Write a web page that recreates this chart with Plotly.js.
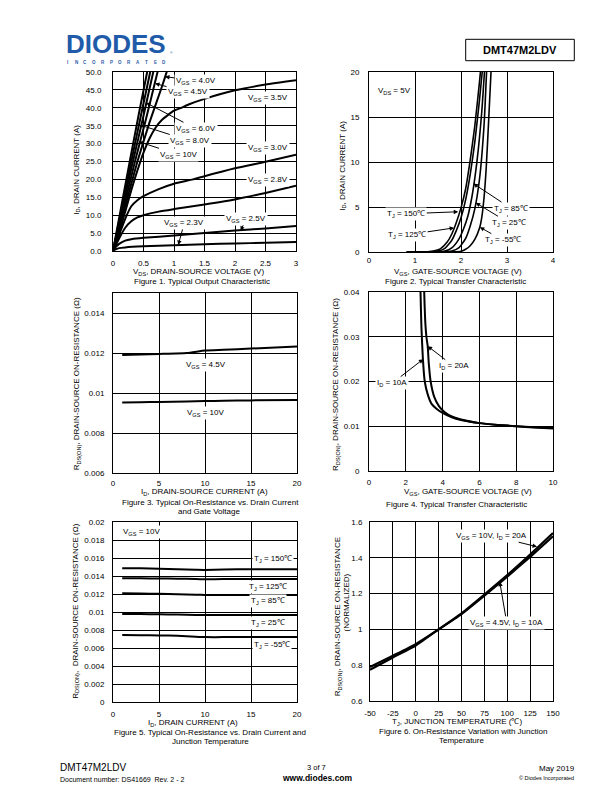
<!DOCTYPE html>
<html>
<head>
<meta charset="utf-8">
<script src="https://cdn.plot.ly/plotly-3.0.1.min.js"></script>
<style>html,body{margin:0;padding:0;background:#fff;}#chart{width:612px;height:792px;}</style>
</head>
<body>
<div id="chart"></div>
<script>
// ---------------- DATA ----------------
// Figure 1: Typical Output Characteristic (VDS [V] vs ID [A])
const f1_vgs10_x = [0, 0.14, 0.28, 0.42, 0.56, 0.58];
const f1_vgs10_y = [0, 12.8, 25.5, 38, 50, 51.8];
const f1_vgs8_x = [0, 0.15, 0.30, 0.45, 0.61, 0.63];
const f1_vgs8_y = [0, 12.5, 25, 37.2, 50, 51.5];
const f1_vgs6_x = [0, 0.16, 0.32, 0.49, 0.66, 0.68];
const f1_vgs6_y = [0, 12.3, 24.5, 37, 50, 51.4];
const f1_vgs45_x = [0, 0.18, 0.36, 0.54, 0.73, 0.76];
const f1_vgs45_y = [0, 12.5, 25, 36.8, 50, 51.8];
const f1_vgs40_x = [0, 0.2, 0.4, 0.6, 0.8, 0.88, 0.9];
const f1_vgs40_y = [0, 12.5, 25, 36, 45.8, 50, 51];
const f1_vgs35_x = [0, 0.1, 0.2, 0.3, 0.4, 0.5, 0.6, 0.7, 0.8, 1.0, 1.12, 1.25, 1.5, 2.0, 2.5, 3.0];
const f1_vgs35_y = [0, 5, 11, 17, 22.5, 27.5, 31.5, 34.5, 36.6, 39.2, 40, 41, 42.5, 44.9, 46.5, 47.7];
const f1_vgs30_x = [0, 0.1, 0.2, 0.3, 0.4, 0.5, 0.75, 1.0, 1.31, 1.5, 2.0, 2.52, 3.0];
const f1_vgs30_y = [0, 4.5, 9, 12.5, 14.2, 15.3, 17.3, 18.8, 20, 20.9, 23.1, 25, 26.9];
const f1_vgs28_x = [0, 0.1, 0.2, 0.3, 0.4, 0.5, 0.75, 1.0, 1.5, 2.0, 2.5, 3.0];
const f1_vgs28_y = [0, 3.5, 6.5, 8.3, 9.4, 10.0, 11.0, 11.7, 13.0, 14.4, 16.2, 18.2];
const f1_vgs25_x = [0, 0.05, 0.1, 0.2, 0.3, 0.5, 1.0, 1.5, 2.0, 2.5, 3.0];
const f1_vgs25_y = [0, 1.2, 2.0, 2.9, 3.3, 3.7, 4.3, 5.0, 5.7, 6.3, 7.0];
const f1_vgs23_x = [0, 0.05, 0.1, 0.2, 0.5, 1.0, 1.5, 2.0, 2.5, 3.0];
const f1_vgs23_y = [0, 0.5, 0.8, 1.0, 1.3, 1.6, 1.9, 2.1, 2.3, 2.5];
const f1_xticks = [0, 0.5, 1, 1.5, 2, 2.5, 3];
const f1_xtext = ['0', '0.5', '1', '1.5', '2', '2.5', '3'];
const f1_yticks = [0, 5, 10, 15, 20, 25, 30, 35, 40, 45, 50];
const f1_ytext = ['0.0', '5.0', '10.0', '15.0', '20.0', '25.0', '30.0', '35.0', '40.0', '45.0', '50.0'];

// Figure 2: Typical Transfer Characteristic (VGS [V] vs ID [A]), VDS = 5V
const f2_t150_x = [0.82, 1.2, 1.4, 1.55, 1.7, 1.8, 1.9, 2.0, 2.1, 2.2, 2.3, 2.4, 2.45];
const f2_t150_y = [0, 0.01, 0.1, 0.35, 1.1, 2.0, 3.3, 4.9, 7.0, 10.2, 14.0, 18.8, 21.5];
const f2_t125_x = [0.82, 1.3, 1.5, 1.65, 1.8, 1.9, 2.0, 2.1, 2.2, 2.3, 2.4, 2.48];
const f2_t125_y = [0, 0.01, 0.1, 0.4, 1.3, 2.4, 3.8, 5.8, 8.6, 12.2, 16.8, 21];
const f2_t85_x = [0.82, 1.45, 1.65, 1.8, 1.95, 2.05, 2.15, 2.25, 2.35, 2.45, 2.52];
const f2_t85_y = [0, 0.01, 0.1, 0.45, 1.4, 2.5, 4.0, 6.5, 10.2, 15.5, 20.8];
const f2_t25_x = [0.82, 1.6, 1.8, 1.95, 2.1, 2.2, 2.3, 2.4, 2.5, 2.56];
const f2_t25_y = [0, 0.01, 0.1, 0.45, 1.5, 2.9, 4.8, 8.0, 14.0, 20.5];
const f2_tm55_x = [0.82, 1.85, 2.0, 2.1, 2.2, 2.3, 2.4, 2.45, 2.5, 2.55, 2.6, 2.66];
const f2_tm55_y = [0, 0.01, 0.08, 0.3, 0.7, 1.4, 2.6, 3.8, 6.0, 9.5, 14.5, 20.8];
const f2_xticks = [0, 1, 2, 3, 4];
const f2_xtext = ['0', '1', '2', '3', '4'];
const f2_yticks = [0, 5, 10, 15, 20];
const f2_ytext = ['0', '5', '10', '15', '20'];

// Figure 3: On-Resistance vs Drain Current and Gate Voltage
const f3_id = [1, 3, 5, 8, 10, 12, 15, 20];
const f3_vgs45 = [0.0119, 0.01192, 0.01195, 0.0120, 0.01212, 0.01216, 0.01222, 0.01233];
const f3_vgs10 = [0.00953, 0.00954, 0.00955, 0.00958, 0.0096, 0.00961, 0.00963, 0.00965];
const f3_xticks = [0, 5, 10, 15, 20];
const f3_xtext = ['0', '5', '10', '15', '20'];
const f3_yticks = [0.006, 0.008, 0.01, 0.012, 0.014];
const f3_ytext = ['0.006', '0.008', '0.01', '0.012', '0.014'];

// Figure 4: On-Resistance vs Gate-Source Voltage
const f4_id10_x = [2.78, 2.8, 2.85, 2.93, 3.03, 3.2, 3.4, 3.7, 4.0, 4.5, 5, 6, 7, 8, 9, 10];
const f4_id10_y = [0.045, 0.04, 0.032, 0.025, 0.02, 0.017, 0.015, 0.0138, 0.013, 0.012, 0.0114, 0.0107, 0.0103, 0.0100, 0.0098, 0.0096];
const f4_id20_x = [2.98, 3.0, 3.05, 3.12, 3.19, 3.25, 3.35, 3.55, 3.8, 4.1, 4.5, 5, 6, 7, 8, 9, 10];
const f4_id20_y = [0.045, 0.04, 0.034, 0.030, 0.0279, 0.024, 0.020, 0.0165, 0.0145, 0.0132, 0.0122, 0.0115, 0.0107, 0.0103, 0.0100, 0.0097, 0.0095];
const f4_xticks = [0, 2, 4, 6, 8, 10];
const f4_xtext = ['0', '2', '4', '6', '8', '10'];
const f4_yticks = [0, 0.01, 0.02, 0.03, 0.04];
const f4_ytext = ['0', '0.01', '0.02', '0.03', '0.04'];

// Figure 5: On-Resistance vs Drain Current and Junction Temperature (VGS = 10V)
const f5_id = [1, 3, 5, 7, 9, 10, 12, 15, 20];
const f5_t150 = [0.01487, 0.01485, 0.0148, 0.01476, 0.0147, 0.01468, 0.01472, 0.01475, 0.01476];
const f5_t125 = [0.01375, 0.01374, 0.01372, 0.0137, 0.01366, 0.01364, 0.01366, 0.01367, 0.01368];
const f5_t85 = [0.01208, 0.01206, 0.01202, 0.01198, 0.01192, 0.0119, 0.0119, 0.0119, 0.0119];
const f5_t25 = [0.00978, 0.00977, 0.00975, 0.00972, 0.00968, 0.00967, 0.00967, 0.00967, 0.00967];
const f5_tm55 = [0.00744, 0.00743, 0.0074, 0.00735, 0.00725, 0.00721, 0.00721, 0.00721, 0.00722];
const f5_xticks = [0, 5, 10, 15, 20];
const f5_xtext = ['0', '5', '10', '15', '20'];
const f5_yticks = [0, 0.002, 0.004, 0.006, 0.008, 0.01, 0.012, 0.014, 0.016, 0.018, 0.02];
const f5_ytext = ['0', '0.002', '0.004', '0.006', '0.008', '0.01', '0.012', '0.014', '0.016', '0.018', '0.02'];

// Figure 6: Normalized On-Resistance vs Junction Temperature
const f6_tj = [-50, -25, 0, 25, 50, 75, 100, 125, 150];
const f6_vgs10 = [0.775, 0.843, 0.91, 1.0, 1.09, 1.195, 1.303, 1.418, 1.538];
const f6_vgs45 = [0.79, 0.853, 0.918, 1.0, 1.085, 1.188, 1.295, 1.405, 1.52];
const f6_xticks = [-50, -25, 0, 25, 50, 75, 100, 125, 150];
const f6_xtext = ['-50', '-25', '0', '25', '50', '75', '100', '125', '150'];
const f6_yticks = [0.6, 0.8, 1, 1.2, 1.4, 1.6];
const f6_ytext = ['0.6', '0.8', '1', '1.2', '1.4', '1.6'];

// ---------------- LAYOUT HELPERS ----------------
const FONT = '"Liberation Sans", Arial, Helvetica, sans-serif';
const W = 612, H = 792;
const px = v => v / W;
const py = v => 1 - v / H;

function line(xa, ya, xs, ys, w) {
  return {type: 'scatter', mode: 'lines', x: xs, y: ys, xaxis: xa, yaxis: ya,
    line: {color: '#000', width: w, shape: 'spline', smoothing: 0.5},
    hoverinfo: 'skip', showlegend: false};
}

function axis(x0, x1, rng, vals, txt, anchor, standoff, isY) {
  const dom = isY ? [py(x1), py(x0)] : [px(x0), px(x1)];
  return {domain: dom, range: rng, anchor: anchor, tickmode: 'array', tickvals: vals, ticktext: txt,
    showline: true, mirror: true, linecolor: '#000', linewidth: 1,
    showgrid: true, gridcolor: '#000', gridwidth: 1, zeroline: false,
    ticks: '', ticklabelstandoff: standoff,
    tickfont: {family: FONT, size: 8, color: '#000'}, fixedrange: true};
}

const annotations = [];
function txt(x, y, text, size, opts) {
  annotations.push(Object.assign({xref: 'paper', yref: 'paper', x: px(x), y: py(y), text: text,
    showarrow: false, xanchor: 'center', yanchor: 'middle',
    font: {family: FONT, size: size, color: '#000'}}, opts || {}));
}
function lab(ax, x, y, text, dx, dy) {
  const a = {xref: 'x' + ax, yref: 'y' + ax, x: x, y: y, text: text,
    font: {family: FONT, size: 8, color: '#000'}, bgcolor: '#fff', borderpad: 1};
  if (dx === undefined) { a.showarrow = false; }
  else {
    a.showarrow = true; a.ax = dx; a.ay = dy; a.arrowhead = 2; a.arrowsize = 0.9;
    a.arrowwidth = 1; a.arrowcolor = '#000'; a.standoff = 0; a.startstandoff = 0;
  }
  annotations.push(a);
}

const VGS = v => 'V<sub>GS</sub> = ' + v;
const TJ = v => 'T<sub>J</sub> = ' + v + '℃';

// Figure 1 labels
lab('', 0.852, 48.7, VGS('4.0V'), 31, 4);
lab('', 0.689, 46.8, VGS('4.5V'), 33, 9);
lab('', 2.54, 42.8, VGS('3.5V'));
lab('', 0.541, 41.4, VGS('6.0V'), 50, 26);
lab('', 0.443, 35.2, VGS('8.0V'), 50, 16);
lab('', 0.426, 30.5, VGS('10V'), 40, 13);
lab('', 2.54, 28.7, VGS('3.0V'));
lab('', 2.54, 19.8, VGS('2.8V'));
lab('', 2.09, 5.67, VGS('2.5V'), 6, -12);
lab('', 1.07, 1.68, VGS('2.3V'), 6, -22);
// Figure 2 labels
lab('2', 0.56, 17.84, 'V<sub>DS</sub> = 5V');
lab('2', 2.27, 7.6, TJ('85'), 38, 25);
lab('2', 1.94, 4.47, TJ('150'), -52, 2);
lab('2', 2.32, 5.47, TJ('25'), 33, 20);
lab('2', 1.85, 2.68, TJ('125'), -47, 7);
lab('2', 2.41, 2.76, TJ('-55'), 23, 13);
// Figure 3 labels
lab('3', 10.1, 0.0114, VGS('4.5V'));
lab('3', 10.0, 0.0090, VGS('10V'));
// Figure 4 labels
lab('4', 3.19, 0.0279, 'I<sub>D</sub> = 20A', 26, 20);
lab('4', 2.95, 0.0250, 'I<sub>D</sub> = 10A', -31, 24);
// Figure 5 labels
lab('5', 3.15, 0.01885, VGS('10V'));
lab('5', 17.39, 0.01587, TJ('150'));
lab('5', 16.9, 0.01278, TJ('125'));
lab('5', 16.8, 0.01121, TJ('85'));
lab('5', 16.9, 0.00879, TJ('25'));
lab('5', 17.3, 0.00637, TJ('-55'));
// Figure 6 labels
lab('6', 132.5, 1.462, VGS('10V') + ', I<sub>D</sub> = 20A', -45, -11);
lab('6', 91.8, 1.266, VGS('4.5V') + ', I<sub>D</sub> = 10A', 7, 41);

// Axis titles and captions
txt(76.7, 170, 'I<sub>D</sub>, DRAIN CURRENT (A)', 8, {textangle: -90});
txt(198, 271.7, 'V<sub>DS</sub>, DRAIN-SOURCE VOLTAGE (V)', 8);
txt(202, 281, 'Figure 1. Typical Output Characteristic', 8);

txt(342.7, 166, 'I<sub>D</sub>, DRAIN CURRENT (A)', 8, {textangle: -90});
txt(457.5, 272, 'V<sub>GS</sub>, GATE-SOURCE VOLTAGE (V)', 8);
txt(455.5, 281.3, 'Figure 2. Typical Transfer Characteristic', 8);

txt(77.3, 384, 'R<sub>DS(ON)</sub>, DRAIN-SOURCE ON-RESISTANCE (Ω)', 8, {textangle: -90});
txt(205, 492.3, 'I<sub>D</sub>, DRAIN-SOURCE CURRENT (A)', 8);
txt(210.5, 502.3, 'Figure 3. Typical On-Resistance vs. Drain Current', 8);
txt(209, 511.5, 'and Gate Voltage', 8);

txt(336, 385, 'R<sub>DS(ON)</sub>, DRAIN-SOURCE ON-RESISTANCE (Ω)', 8, {textangle: -90});
txt(468, 492.3, 'V<sub>GS</sub>, GATE-SOURCE VOLTAGE (V)', 8);
txt(456, 504, 'Figure 4. Typical Transfer Characteristic', 8);

txt(75.7, 611, 'R<sub>DS(ON)</sub>,  DRAIN-SOURCE ON-RESISTANCE (Ω)', 8, {textangle: -90});
txt(192.5, 723.3, 'I<sub>D</sub>, DRAIN CURRENT (A)', 8);
txt(210, 732.3, 'Figure 5. Typical On-Resistance vs. Drain Current and', 8);
txt(210, 741.7, 'Junction Temperature', 8);

txt(338.3, 617, 'R<sub>DS(ON)</sub>, DRAIN-SOURCE ON-RESISTANCE', 8, {textangle: -90});
txt(345.5, 603, '(NORMALIZED)', 8, {textangle: -90});
txt(456.7, 721.7, 'T<sub>J</sub>, JUNCTION TEMPERATURE (℃)', 8);
txt(462.5, 731.7, 'Figure 6. On-Resistance Variation with Junction', 8);
txt(461.7, 740.7, 'Temperature', 8);

// Header
txt(116, 43.5, '<b>DIODES</b>', 26, {font: {family: FONT, size: 26, color: '#1f5ba8'}});
txt(171, 53, '®', 3.5, {font: {family: FONT, size: 3.5, color: '#1f5ba8'}});
const inc = 'INCORPORATED'.split('');
inc.forEach((c, i) => txt(67.5 + i * 8.8, 62, '<b>' + c + '</b>', 4.5, {font: {family: FONT, size: 4.5, color: '#1f5ba8'}}));
txt(520, 50, '<b>DMT47M2LDV</b>', 11);

// Footer
txt(58, 767.3, 'DMT47M2LDV', 10, {xanchor: 'left'});
txt(58, 779, 'Document number: DS41669  Rev. 2 - 2', 7, {xanchor: 'left'});
txt(316, 767.3, '3 of 7', 7.5);
txt(317, 778.3, '<b>www.diodes.com</b>', 8.5);
txt(577, 768.9, 'May 2019', 8, {xanchor: 'right'});
txt(576, 777.5, '© Diodes Incorporated', 5.5, {xanchor: 'right'});

const shapes = [{type: 'rect', xref: 'paper', yref: 'paper', x0: px(465.7), x1: px(574.3), y0: py(60.7), y1: py(39.3),
  line: {color: '#000', width: 1}}];

// ---------------- TRACES ----------------
const data = [
  line('x', 'y', f1_vgs10_x, f1_vgs10_y, 2),
  line('x', 'y', f1_vgs8_x, f1_vgs8_y, 2),
  line('x', 'y', f1_vgs6_x, f1_vgs6_y, 2),
  line('x', 'y', f1_vgs45_x, f1_vgs45_y, 2),
  line('x', 'y', f1_vgs40_x, f1_vgs40_y, 2),
  line('x', 'y', f1_vgs35_x, f1_vgs35_y, 2),
  line('x', 'y', f1_vgs30_x, f1_vgs30_y, 2),
  line('x', 'y', f1_vgs28_x, f1_vgs28_y, 2),
  line('x', 'y', f1_vgs25_x, f1_vgs25_y, 2),
  line('x', 'y', f1_vgs23_x, f1_vgs23_y, 2),
  line('x2', 'y2', f2_t150_x, f2_t150_y, 1.6),
  line('x2', 'y2', f2_t125_x, f2_t125_y, 1.6),
  line('x2', 'y2', f2_t85_x, f2_t85_y, 1.6),
  line('x2', 'y2', f2_t25_x, f2_t25_y, 1.6),
  line('x2', 'y2', f2_tm55_x, f2_tm55_y, 1.6),
  line('x3', 'y3', f3_id, f3_vgs45, 2),
  line('x3', 'y3', f3_id, f3_vgs10, 2),
  line('x4', 'y4', f4_id10_x, f4_id10_y, 2),
  line('x4', 'y4', f4_id20_x, f4_id20_y, 2),
  line('x5', 'y5', f5_id, f5_t150, 2),
  line('x5', 'y5', f5_id, f5_t125, 2),
  line('x5', 'y5', f5_id, f5_t85, 2),
  line('x5', 'y5', f5_id, f5_t25, 2),
  line('x5', 'y5', f5_id, f5_tm55, 2),
  line('x6', 'y6', f6_tj, f6_vgs10, 2.2),
  line('x6', 'y6', f6_tj, f6_vgs45, 2.2)
];

const layout = {
  width: W, height: H, margin: {l: 0, r: 0, t: 0, b: 0},
  paper_bgcolor: '#fff', plot_bgcolor: '#fff', showlegend: false,
  font: {family: FONT, size: 8, color: '#000'},
  xaxis: axis(113, 296, [0, 3], f1_xticks, f1_xtext, 'y', 4, false),
  yaxis: axis(72, 251, [0, 50], f1_yticks, f1_ytext, 'x', 9, true),
  xaxis2: axis(369, 553, [0, 4], f2_xticks, f2_xtext, 'y2', 2.5, false),
  yaxis2: axis(72, 252, [0, 20], f2_yticks, f2_ytext, 'x2', 7, true),
  xaxis3: axis(113, 297, [0, 20], f3_xticks, f3_xtext, 'y3', 2, false),
  yaxis3: axis(293, 473, [0.006, 0.015], f3_yticks, f3_ytext, 'x3', 6, true),
  xaxis4: axis(369, 553, [0, 10], f4_xticks, f4_xtext, 'y4', 3, false),
  yaxis4: axis(292, 471, [0, 0.04], f4_yticks, f4_ytext, 'x4', 7, true),
  xaxis5: axis(113, 297, [0, 20], f5_xticks, f5_xtext, 'y5', 4, false),
  yaxis5: axis(522, 702, [0, 0.02], f5_yticks, f5_ytext, 'x5', 6, true),
  xaxis6: axis(370, 553, [-50, 150], f6_xticks, f6_xtext, 'y6', 4, false),
  yaxis6: axis(522, 701, [0.6, 1.6], f6_yticks, f6_ytext, 'x6', 5, true),
  annotations: annotations,
  shapes: shapes
};

Plotly.newPlot('chart', data, layout, {staticPlot: true, displayModeBar: false});
</script>
</body>
</html>
